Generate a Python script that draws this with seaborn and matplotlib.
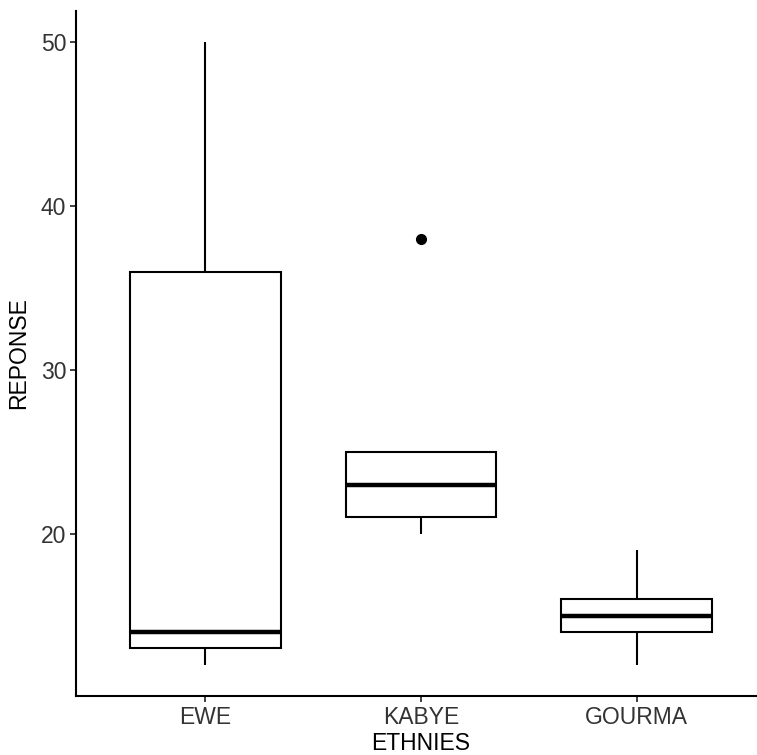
import numpy as np
import pandas as pd
import matplotlib
matplotlib.use("Agg")
import matplotlib.pyplot as plt
import seaborn as sns

ETHNIES = ["EWE", "KABYE", "GOURMA"]
ewe = [12, 13, 14, 36, 50]
kabye = [20, 21, 23, 25, 38]
gourma = [12, 14, 15, 16, 19]

df = pd.DataFrame({
    "ETHNIES": ["EWE"] * len(ewe) + ["KABYE"] * len(kabye) + ["GOURMA"] * len(gourma),
    "REPONSE": ewe + kabye + gourma,
})

sns.set_theme(style="ticks")
plt.rcParams["font.family"] = ["Liberation Sans", "DejaVu Sans"]

fig = plt.figure(figsize=(7.57, 7.55), dpi=100)
ax = fig.add_axes([76 / 757, 59 / 755, 690 / 757, 685 / 755])

sns.boxplot(data=df, x="ETHNIES", y="REPONSE", order=ETHNIES, ax=ax,
            width=0.7, color="white", linecolor="black", linewidth=1.5,
            medianprops={"linewidth": 3.2, "color": "black"},
            capprops={"linewidth": 0},
            flierprops={"marker": "o", "markerfacecolor": "black",
                        "markeredgecolor": "black", "markersize": 7})

ax.set_xlim(-0.6, 2.6)
ax.set_ylim(10.1, 51.9)
ax.set_yticks([20, 30, 40, 50])
sns.despine(ax=ax)
for side in ["left", "bottom"]:
    ax.spines[side].set_linewidth(1.5)
    ax.spines[side].set_color("black")
ax.tick_params(axis="both", length=4, width=1.3, color="#333333",
               labelsize=16.5, labelcolor="#333333", pad=3)
ax.set_xlabel("ETHNIES", fontsize=16.5, color="black", labelpad=2)
ax.set_ylabel("REPONSE", fontsize=16.5, color="black", labelpad=8)

fig.savefig("out.png", dpi=100)
